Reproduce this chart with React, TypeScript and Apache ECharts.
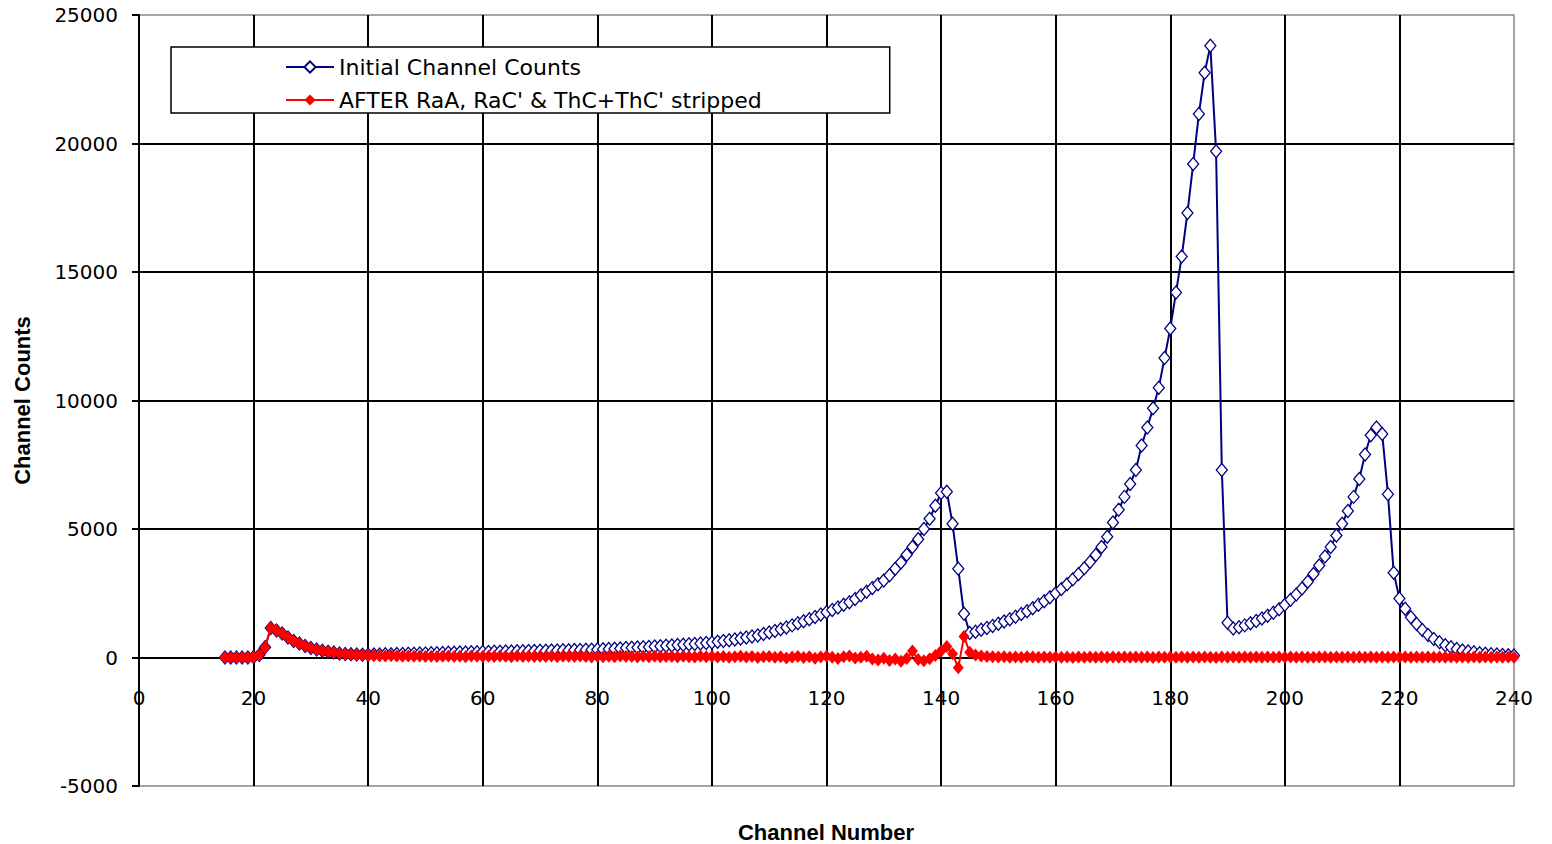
import React, { useEffect, useRef } from "react";
import * as echarts from "echarts";

const FIRST_CHANNEL = 15;

const initialCounts: number[] = [
  0, 0, 0, 0, 0, 20, 100, 400,
  1150, 1050, 930, 780, 640, 540, 450, 370, 310, 260, 220, 190, 160, 140, 125, 115, 110, 110,
  115, 120, 125, 130, 135, 140, 145, 150, 155, 160,
  165, 170, 175, 180, 185, 190, 195, 200, 205, 210,
  215, 220, 225, 230, 235, 240, 245, 250, 255, 260,
  265, 270, 275, 280, 285, 290, 295, 300, 305, 315,
  325, 335, 345, 355, 365, 375, 385, 395, 410, 425,
  440, 455, 470, 485, 500, 515, 530, 545, 565, 585,
  610, 640, 670, 700, 740, 780, 820, 860, 910, 970,
  1030, 1100, 1170, 1250, 1330, 1410, 1490, 1580, 1670, 1760,
  1850, 1950, 2050, 2150, 2280, 2420, 2560, 2700, 2850, 3000,
  3200, 3450, 3700, 4000, 4300, 4600, 5000, 5400, 5900, 6400,
  6450, 5200, 3450, 1700, 950, 1000, 1080, 1150, 1230, 1310,
  1400, 1490, 1590, 1690, 1800, 1920, 2050, 2190, 2340, 2500,
  2670, 2850, 3040, 3250, 3470, 3720, 3990, 4300, 4700, 5250,
  5750, 6250, 6750, 7300, 8250, 8950, 9700, 10500, 11650, 12800,
  14200, 15600, 17300, 19200, 21150, 22750, 23800, 19700, 7300, 1350,
  1130, 1180, 1250, 1330, 1420, 1520, 1620, 1740, 1880, 2050,
  2250, 2450, 2680, 2950, 3250, 3580, 3930, 4300, 4750, 5200,
  5700, 6250, 6950, 7900, 8650, 8950, 8700, 6350, 3300, 2300,
  1900, 1570, 1300, 1070, 880, 720, 590, 480, 400, 330,
  270, 230, 200, 170, 150, 130, 115, 100, 90, 80,
];

const strippedCounts: number[] = [
  0, 0, 0, 0, 0, 20, 100, 400,
  1150, 1050, 930, 780, 640, 540, 450, 370, 310, 260, 220, 190, 160, 140, 120, 105, 95, 85,
  80, 70, 60, 75, 55, 50, 60, 45, 55, 40,
  50, 35, 45, 60, 40, 50, 30, 55, 45, 40,
  50, 35, 60, 45, 30, 55, 40, 50, 35, 45,
  40, 55, 30, 50, 45, 35, 60, 40, 20, 50,
  30, 45, 25, 55, 35, 40, 20, 50, 30, 45,
  25, 40, 35, 20, 50, 30, 15, 45, 25, 35,
  20, 40, 10, 30, 45, 15, 35, 0, 25, 40,
  10, 30, -20, 20, 40, 0, 30, -30, 20, 50,
  10, -40, 30, 60, -20, 10, 50, -60, -100, -30,
  -120, -60, -150, -40, 250, -80, -130, -50, 80, 250,
  430, 150, -400, 820, 200, 100, 60, 40, 30, 20,
  30, 10, 20, 10, 30, 20, 10, 20, 10, 20,
  10, 20, 0, 15, 10, 20, 5, 15, 10, 20,
  10, 15, 5, 20, 10, 15, 0, 20, 10, 15,
  10, 20, 5, 15, 10, 20, 10, 0, 15, 10,
  20, 10, 15, 5, 20, 10, 15, 10, 20, 5,
  15, 10, 20, 10, 5, 15, 20, 10, 15, 5,
  20, 10, 15, 10, 20, 5, 15, 10, 20, 10,
  15, 5, 20, 10, 15, 10, 20, 5, 15, 10,
  20, 10, 15, 5, 20, 10, 15, 10, 20, 10,
];

const seriesNames = ["Initial Channel Counts", "AFTER RaA, RaC' & ThC+ThC' stripped"];
const xTitle = "Channel Number";
const yTitle = "Channel Counts";

const toPairs = (vals: number[]) => vals.map((v, i) => [FIRST_CHANNEL + i, v]);

export default function App() {
  const ref = useRef<HTMLDivElement>(null);
  useEffect(() => {
    document.body.style.margin = "0";
    if (!ref.current) return;
    const chart = echarts.init(ref.current, undefined, { renderer: "svg" });
    const tickFont = { fontFamily: "DejaVu Sans", fontSize: 20, color: "#000" };
    chart.setOption({
      animation: false,
      backgroundColor: "#fff",
      grid: {
        left: 139,
        right: 38,
        top: 15,
        bottom: 58,
        show: true,
        borderColor: "#888",
        borderWidth: 1.5,
      },
      legend: {
        orient: "vertical",
        left: 171,
        top: 47,
        padding: [9, 128, 2, 114],
        itemWidth: 48,
        itemHeight: 14,
        itemGap: 11,
        backgroundColor: "#fff",
        borderColor: "#000",
        borderWidth: 1.5,
        textStyle: { fontFamily: "DejaVu Sans", fontSize: 22, color: "#000", lineHeight: 20 },
        data: seriesNames,
      },
      xAxis: {
        type: "value",
        min: 0,
        max: 240,
        interval: 20,
        offset: -128.5,
        axisLine: { show: true, onZero: false, lineStyle: { color: "#000", width: 2 } },
        axisTick: { show: false },
        axisLabel: { margin: 30, formatter: (v: number) => String(v), ...tickFont },
        splitLine: { show: true, showMaxLine: false, lineStyle: { color: "#000", width: 2 } },
      },
      yAxis: {
        type: "value",
        min: -5000,
        max: 25000,
        interval: 5000,
        name: yTitle,
        nameLocation: "middle",
        nameGap: 106,
        nameTextStyle: { fontFamily: "Liberation Sans", fontWeight: "bold", fontSize: 22, color: "#000" },
        axisLine: { show: true, onZero: false, lineStyle: { color: "#000", width: 2 } },
        axisTick: { show: true, length: 7, lineStyle: { color: "#000", width: 2 } },
        axisLabel: { margin: 21, formatter: (v: number) => String(v), ...tickFont },
        splitLine: { show: true, showMaxLine: false, showMinLine: false, lineStyle: { color: "#000", width: 2 } },
      },
      graphic: [
        {
          type: "text",
          x: 826,
          y: 832,
          style: {
            text: xTitle,
            font: 'bold 22px "Liberation Sans"',
            fill: "#000",
            align: "center",
            verticalAlign: "middle",
          },
        },
      ],
      series: [
        {
          name: seriesNames[0],
          type: "line",
          data: toPairs(initialCounts),
          symbol: "diamond",
          symbolSize: [11, 13],
          showAllSymbol: true,
          lineStyle: { color: "#000080", width: 2 },
          itemStyle: { color: "#fff", borderColor: "#000080", borderWidth: 1.3 },
          z: 2,
        },
        {
          name: seriesNames[1],
          type: "line",
          data: toPairs(strippedCounts),
          symbol: "diamond",
          symbolSize: [11, 13],
          showAllSymbol: true,
          lineStyle: { color: "#ff0000", width: 2 },
          itemStyle: { color: "#ff0000", borderColor: "#ff0000", borderWidth: 0 },
          z: 3,
        },
      ],
    });
    return () => chart.dispose();
  }, []);
  return <div ref={ref} style={{ width: 1552, height: 844 }} />;
}
